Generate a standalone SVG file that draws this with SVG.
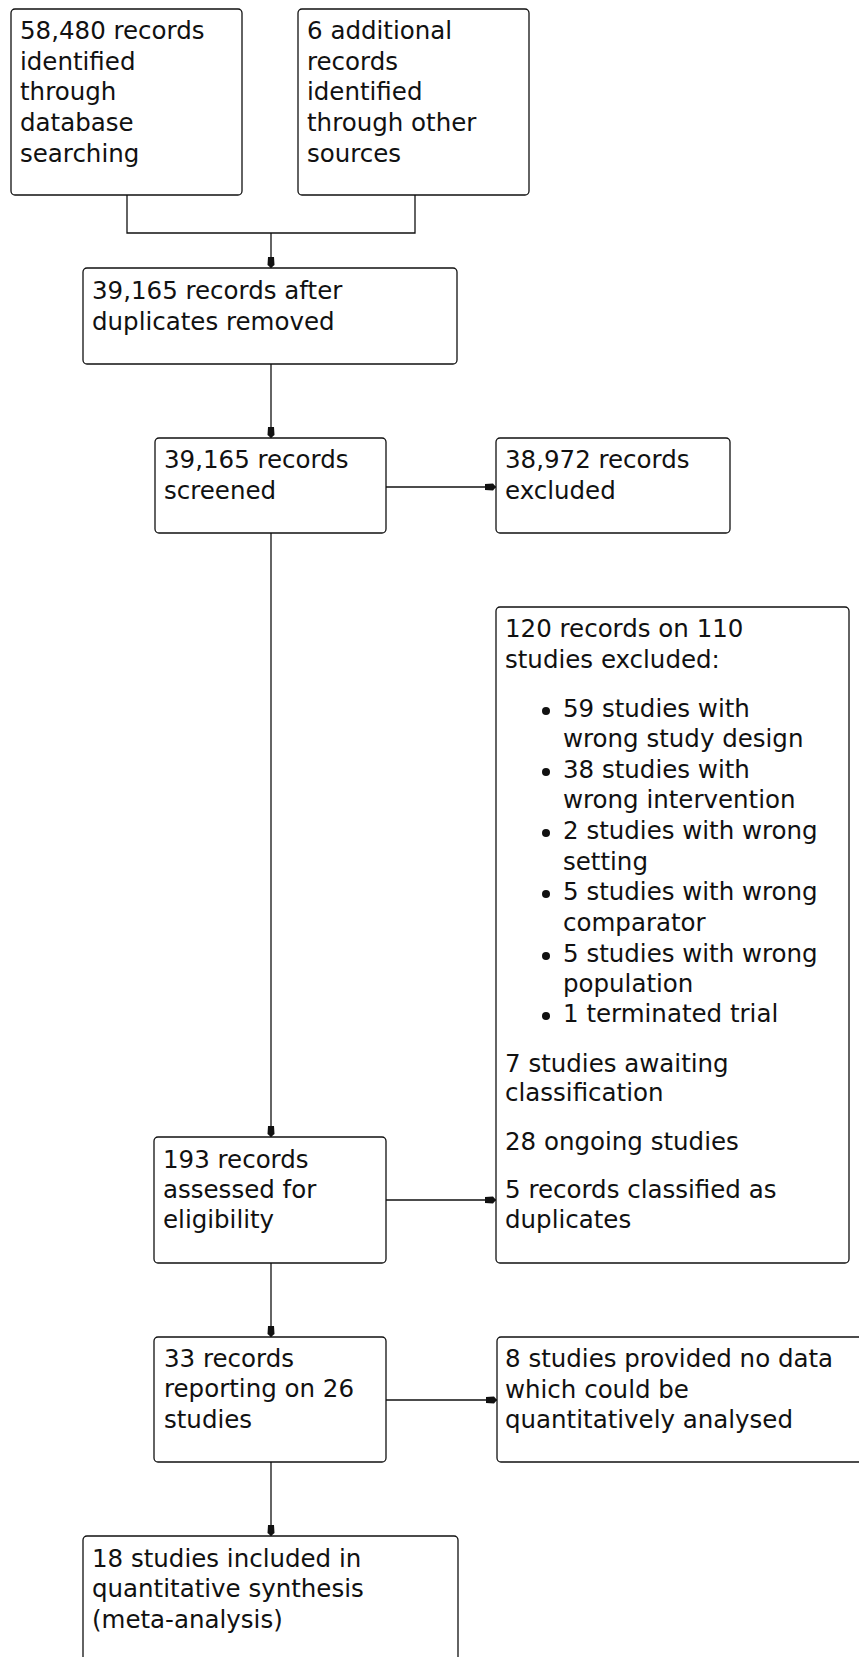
<svg xmlns="http://www.w3.org/2000/svg" width="859" height="1657" viewBox="0 0 859 1657">
<style>
.b{fill:#fff;stroke:#111;stroke-width:1.3}
.t{font-family:"DejaVu Sans",Verdana,sans-serif;font-size:24.5px;fill:#111}
.c{fill:none;stroke:#111;stroke-width:1.3}
</style>
<defs>
<marker id="ah" markerUnits="userSpaceOnUse" markerWidth="14" markerHeight="10" viewBox="-12 -5 13 10" refX="0" refY="0" orient="auto">
<path d="M-11,-3 L-3,-3.5 L0,0 L-3,3.5 L-11,3 Z" fill="#111"/>
</marker>
</defs>
<rect width="859" height="1657" fill="#fff"/>
<g id="connectors">
<path class="c" d="M127,195 V233 H415 V195"/>
<path class="c" d="M271,233 V268" marker-end="url(#ah)"/>
<path class="c" d="M271,364 V438" marker-end="url(#ah)"/>
<path class="c" d="M386,487 H496" marker-end="url(#ah)"/>
<path class="c" d="M271,533 V1137" marker-end="url(#ah)"/>
<path class="c" d="M386,1200 H496" marker-end="url(#ah)"/>
<path class="c" d="M271,1263 V1337" marker-end="url(#ah)"/>
<path class="c" d="M386,1400 H497" marker-end="url(#ah)"/>
<path class="c" d="M271,1462 V1536" marker-end="url(#ah)"/>
</g>
<g id="n1">
<rect class="b" x="11" y="9" width="231" height="186" rx="4"/>
<text class="t" x="20" y="39">58,480 records</text>
<text class="t" x="20" y="70">identified</text>
<text class="t" x="20" y="100">through</text>
<text class="t" x="20" y="131">database</text>
<text class="t" x="20" y="162">searching</text>
</g>
<g id="n2">
<rect class="b" x="298" y="9" width="231" height="186" rx="4"/>
<text class="t" x="307" y="39">6 additional</text>
<text class="t" x="307" y="70">records</text>
<text class="t" x="307" y="100">identified</text>
<text class="t" x="307" y="131">through other</text>
<text class="t" x="307" y="162">sources</text>
</g>
<g id="n3">
<rect class="b" x="83" y="268" width="374" height="96" rx="4"/>
<text class="t" x="92" y="299">39,165 records after</text>
<text class="t" x="92" y="330">duplicates removed</text>
</g>
<g id="n4">
<rect class="b" x="155" y="438" width="231" height="95" rx="4"/>
<text class="t" x="164" y="468">39,165 records</text>
<text class="t" x="164" y="499">screened</text>
</g>
<g id="n5">
<rect class="b" x="496" y="438" width="234" height="95" rx="4"/>
<text class="t" x="505" y="468">38,972 records</text>
<text class="t" x="505" y="499">excluded</text>
</g>
<g id="n6">
<rect class="b" x="496" y="607" width="353" height="656" rx="4"/>
<text class="t" x="505" y="637">120 records on 110</text>
<text class="t" x="505" y="668">studies excluded:</text>
<circle cx="546" cy="711" r="4" fill="#111"/>
<text class="t" x="563" y="717">59 studies with</text>
<text class="t" x="563" y="747">wrong study design</text>
<circle cx="546" cy="772" r="4" fill="#111"/>
<text class="t" x="563" y="778">38 studies with</text>
<text class="t" x="563" y="808">wrong intervention</text>
<circle cx="546" cy="833" r="4" fill="#111"/>
<text class="t" x="563" y="839">2 studies with wrong</text>
<text class="t" x="563" y="870">setting</text>
<circle cx="546" cy="894" r="4" fill="#111"/>
<text class="t" x="563" y="900">5 studies with wrong</text>
<text class="t" x="563" y="931">comparator</text>
<circle cx="546" cy="956" r="4" fill="#111"/>
<text class="t" x="563" y="962">5 studies with wrong</text>
<text class="t" x="563" y="992">population</text>
<circle cx="546" cy="1016" r="4" fill="#111"/>
<text class="t" x="563" y="1022">1 terminated trial</text>
<text class="t" x="505" y="1072">7 studies awaiting</text>
<text class="t" x="505" y="1101">classification</text>
<text class="t" x="505" y="1150">28 ongoing studies</text>
<text class="t" x="505" y="1198">5 records classified as</text>
<text class="t" x="505" y="1228">duplicates</text>
</g>
<g id="n7">
<rect class="b" x="154" y="1137" width="232" height="126" rx="4"/>
<text class="t" x="163" y="1168">193 records</text>
<text class="t" x="163" y="1198">assessed for</text>
<text class="t" x="163" y="1228">eligibility</text>
</g>
<g id="n8">
<rect class="b" x="154" y="1337" width="232" height="125" rx="4"/>
<text class="t" x="164" y="1367">33 records</text>
<text class="t" x="164" y="1397">reporting on 26</text>
<text class="t" x="164" y="1428">studies</text>
</g>
<g id="n9">
<rect class="b" x="83" y="1536" width="375" height="160" rx="4"/>
<text class="t" x="92" y="1567">18 studies included in</text>
<text class="t" x="92" y="1597">quantitative synthesis</text>
<text class="t" x="92" y="1628">(meta-analysis)</text>
</g>
<g id="n10">
<rect class="b" x="497" y="1337" width="380" height="125" rx="4"/>
<text class="t" x="505" y="1367">8 studies provided no data</text>
<text class="t" x="505" y="1398">which could be</text>
<text class="t" x="505" y="1428">quantitatively analysed</text>
</g>
</svg>
